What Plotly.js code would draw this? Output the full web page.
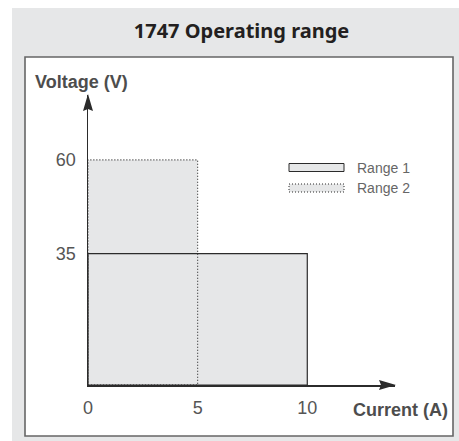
<!DOCTYPE html>
<html>
<head>
<meta charset="utf-8">
<script src="https://cdn.plot.ly/plotly-3.0.1.min.js"></script>
<style>html,body{margin:0;padding:0;background:#fff}#chart{width:459px;height:441px}</style>
</head>
<body>
<div id="chart"></div>
<script>
// ---- data ----
const rangeNames = ['Range 1', 'Range 2'];
const maxCurrent = [10, 5];      // A
const maxVoltage = [35, 60];     // V
const xTickVals = [0, 5, 10];
const yTickVals = [35, 60];
const chartTitle = '1747 Operating range';
const xTitle = 'Current (A)';
const yTitle = 'Voltage (V)';

// ---- geometry (pixels) ----
const W = 459, H = 441;
const L = 88, R = 64, T = 95, B = 56;
const PW = W - L - R, PH = H - T - B;
const px = x => (x - L) / PW;
const py = y => (H - B - y) / PH;

const fillGray = '#e6e7e8';
const lineDark = '#2b2b2b';
const textGray = '#555555';

function rectXY(i) {
  return {
    x: [0, maxCurrent[i], maxCurrent[i], 0, 0],
    y: [0, 0, maxVoltage[i], maxVoltage[i], 0]
  };
}

const traces = [];
// fills first
for (let i = rangeNames.length - 1; i >= 0; i--) {
  const r = rectXY(i);
  traces.push({type: 'scatter', mode: 'lines', x: r.x, y: r.y, fill: 'toself',
    fillcolor: fillGray, line: {width: 0, color: fillGray}, name: rangeNames[i],
    showlegend: false, hoverinfo: 'skip'});
}
// outlines
const dashes = ['solid', '1px,2px'];
const widths = [1.2, 1.1];
for (let i = 0; i < rangeNames.length; i++) {
  const r = rectXY(i);
  traces.push({type: 'scatter', mode: 'lines', x: r.x, y: r.y,
    line: {width: widths[i], color: lineDark, dash: dashes[i]}, name: rangeNames[i],
    showlegend: false});
}

const shapes = [
  // outer gray panel
  {type: 'rect', xref: 'paper', yref: 'paper', layer: 'below',
   x0: px(12), x1: px(470), y0: py(450), y1: py(8), fillcolor: '#e6e7e8', line: {width: 0}},
  // inner white box
  {type: 'rect', xref: 'paper', yref: 'paper', layer: 'below',
   x0: px(25), x1: px(453), y0: py(436), y1: py(57), fillcolor: '#ffffff', line: {width: 1.6, color: '#666666'}},
  // y arrowhead
  {type: 'path', xref: 'paper', yref: 'paper', layer: 'above',
   path: `M${px(88)},${py(94)} L${px(83)},${py(111)} L${px(88)},${py(109)} L${px(93)},${py(111)} Z`,
   fillcolor: lineDark, line: {width: 0}},
  // x arrowhead
  {type: 'path', xref: 'paper', yref: 'paper', layer: 'above',
   path: `M${px(396)},${py(385)} L${px(379)},${py(380)} L${px(381)},${py(385)} L${px(379)},${py(390)} Z`,
   fillcolor: lineDark, line: {width: 0}}
];

// manual legend
const legY = [167.5, 188];
const annotations = [
  {xref: 'paper', yref: 'paper', x: px(33), y: py(82), xanchor: 'left', yanchor: 'middle',
   text: '<b>' + yTitle + '</b>', showarrow: false,
   font: {family: 'Liberation Sans, Arial, sans-serif', size: 18, color: '#4d4d4d'}},
  {xref: 'paper', yref: 'paper', x: px(351), y: py(410), xanchor: 'left', yanchor: 'middle',
   text: '<b>' + xTitle + '</b>', showarrow: false,
   font: {family: 'Liberation Sans, Arial, sans-serif', size: 18, color: '#4d4d4d'}}
];
for (let i = 0; i < rangeNames.length; i++) {
  shapes.push({type: 'rect', xref: 'paper', yref: 'paper', layer: 'above',
    x0: px(289), x1: px(344), y0: py(legY[i] + 4), y1: py(legY[i] - 4),
    fillcolor: fillGray, line: {width: 1, color: lineDark, dash: dashes[i]}});
  annotations.push({xref: 'paper', yref: 'paper', x: px(355), y: py(legY[i]),
    xanchor: 'left', yanchor: 'middle', text: rangeNames[i], showarrow: false,
    font: {family: 'Liberation Sans, Arial, sans-serif', size: 14, color: '#666666'}});
}

const layout = {
  width: W, height: H,
  margin: {l: L, r: R, t: T, b: B, pad: 0},
  paper_bgcolor: '#ffffff',
  plot_bgcolor: 'rgba(0,0,0,0)',
  showlegend: false,
  title: {text: '<b>' + chartTitle + '</b>', x: 241.5 / W, xanchor: 'center',
    y: 1 - 31 / H, yanchor: 'middle', xref: 'container', yref: 'container',
    font: {family: 'Noto Sans, Open Sans, sans-serif', size: 20, color: '#231f20'}},
  xaxis: {range: [0, 14], showgrid: false, zeroline: false, showline: true,
    linecolor: lineDark, linewidth: 1.5, ticks: '', tickvals: xTickVals,
    ticktext: xTickVals.map(String), ticklabelstandoff: 6,
    tickfont: {family: 'Liberation Sans, Arial, sans-serif', size: 18, color: textGray},
    fixedrange: true},
  yaxis: {range: [0, 77.3], showgrid: false, zeroline: false, showline: true,
    linecolor: lineDark, linewidth: 1.5, ticks: '', tickvals: yTickVals,
    ticktext: yTickVals.map(String), ticklabelstandoff: 7,
    tickfont: {family: 'Liberation Sans, Arial, sans-serif', size: 18, color: textGray},
    fixedrange: true},
  shapes: shapes,
  annotations: annotations
};

Plotly.newPlot('chart', traces, layout, {displayModeBar: false, staticPlot: true});
</script>
</body>
</html>
